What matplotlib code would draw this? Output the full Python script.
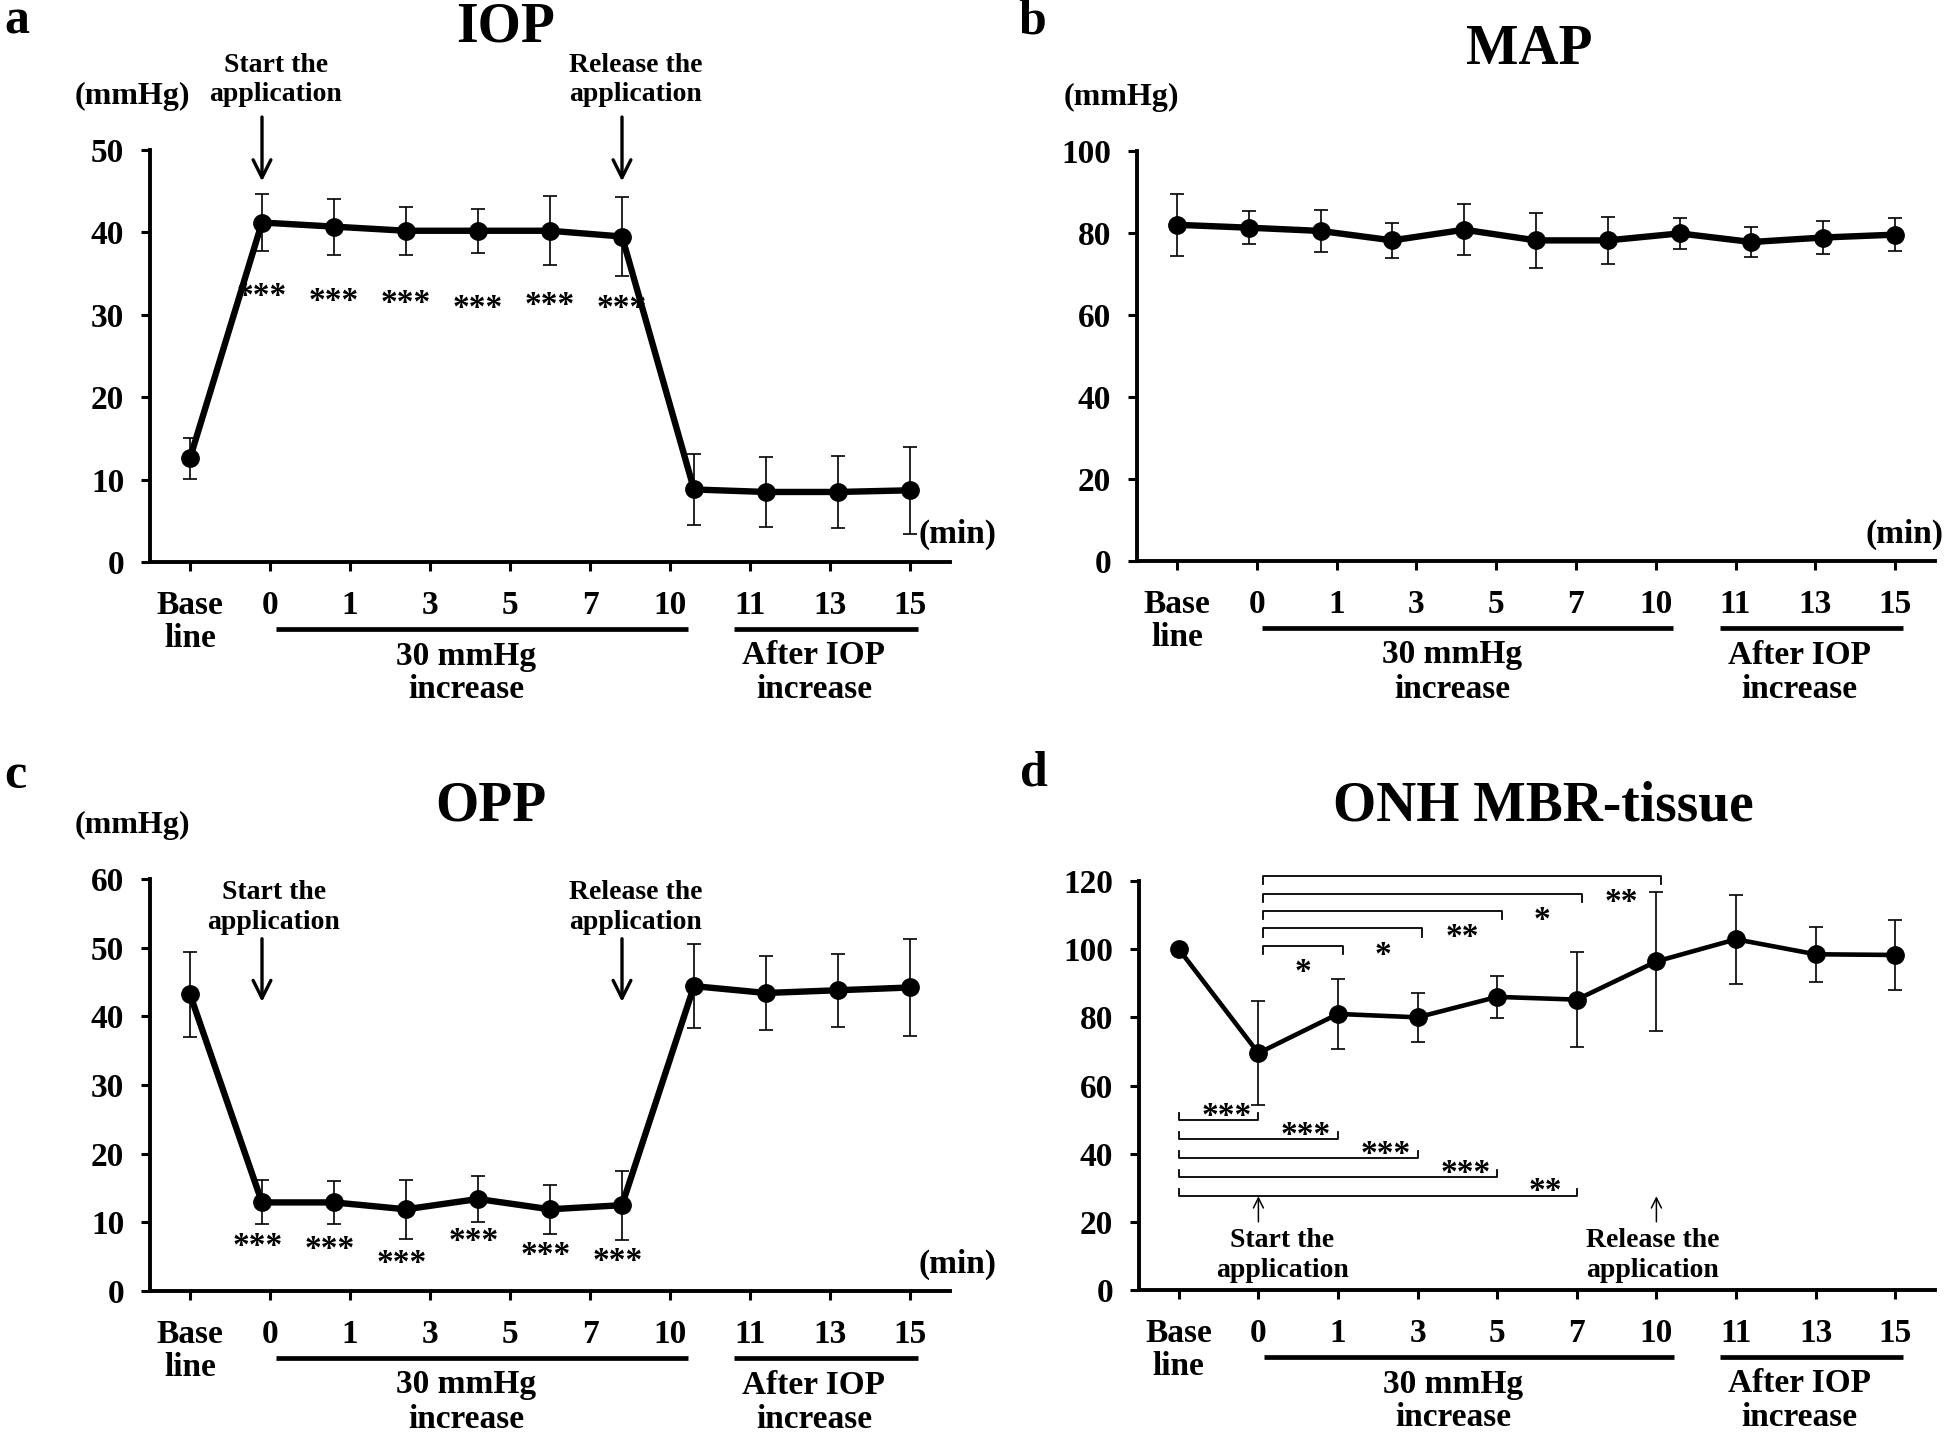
import numpy as np
import matplotlib.pyplot as plt

plt.rcParams['font.family'] = ['Liberation Serif', 'DejaVu Serif']
plt.rcParams['font.weight'] = 'bold'

W, H = 1946, 1436

tick_labels = ['Base\nline', '0', '1', '3', '5', '7', '10', '11', '13', '15']

# a: IOP (11 recorded points)
iop_mean = [12.6, 41.2, 40.7, 40.2, 40.2, 40.2, 39.5, 8.8, 8.5, 8.5, 8.7]
iop_sd = [2.5, 3.5, 3.4, 2.9, 2.7, 4.2, 4.8, 4.3, 4.2, 4.4, 5.3]
iop_stars = ['***', '***', '***', '***', '***', '***']
iop_star_y = [33.1, 32.6, 32.3, 31.7, 32.0, 31.7]

# b: MAP
map_mean = [82.0, 81.3, 80.5, 78.2, 80.8, 78.2, 78.2, 79.9, 77.8, 78.9, 79.6]
map_sd = [7.5, 4.0, 5.2, 4.3, 6.2, 6.8, 5.8, 3.7, 3.6, 4.0, 4.0]

# c: OPP
opp_mean = [43.2, 12.9, 12.9, 11.9, 13.4, 11.9, 12.5, 44.4, 43.4, 43.8, 44.2]
opp_sd = [6.2, 3.2, 3.1, 4.3, 3.4, 3.6, 5.0, 6.1, 5.4, 5.3, 7.0]
opp_stars = ['***', '***', '***', '***', '***', '***']
opp_star_y = [7.6, 7.1, 5.1, 8.3, 6.3, 5.4]

# d: ONH MBR-tissue (one point per label)
onh_mean = [100.0, 69.5, 81.0, 80.0, 86.0, 85.2, 96.4, 102.9, 98.5, 98.3]
onh_sd = [0, 15.2, 10.3, 7.2, 6.2, 14.0, 20.3, 13.1, 8.1, 10.4]
# comparisons with 0 min
vs0_targets = ['1', '3', '5', '7', '10']
vs0_labels = ['*', '*', '**', '*', '**']
# comparisons with baseline
vsbase_targets = ['0', '1', '3', '5', '7']
vsbase_labels = ['***', '***', '***', '***', '**']


def make_axes(left, right, top, bottom):
    return fig.add_axes([left / W, 1 - bottom / H, (right - left) / W, (bottom - top) / H])


def style_axes(ax, ymax, ystep):
    ax.set_xlim(-0.5, 9.5)
    ax.set_ylim(0, ymax)
    ax.set_yticks(np.arange(0, ymax + 1, ystep))
    ax.set_xticks(range(len(tick_labels)))
    ax.set_xticklabels(tick_labels, linespacing=1.05)
    for s in ['top', 'right']:
        ax.spines[s].set_visible(False)
    for s in ['left', 'bottom']:
        ax.spines[s].set_linewidth(2.8)
    ax.tick_params(axis='both', width=2.2, length=6.5, labelsize=24)
    ax.tick_params(axis='x', pad=14)
    ax.tick_params(axis='y', pad=12)
    for lab in ax.get_xticklabels() + ax.get_yticklabels():
        lab.set_fontweight('bold')
    # grouping bars under the time labels
    tr = ax.get_xaxis_transform()
    h_px = ax.bbox.height

    def fy(px):
        return -px / h_px
    ax.plot([1.07, 6.22], [fy(67)] * 2, color='black', lw=3.4, transform=tr, clip_on=False,
            solid_capstyle='butt')
    ax.plot([6.8, 9.1], [fy(67)] * 2, color='black', lw=3.4, transform=tr, clip_on=False,
            solid_capstyle='butt')
    ax.text(3.45, fy(94), '30 mmHg', transform=tr, ha='center', va='center', fontsize=24)
    ax.text(3.45, fy(128), 'increase', transform=tr, ha='center', va='center', fontsize=24)
    ax.text(7.8, fy(94), 'After IOP', transform=tr, ha='center', va='center', fontsize=24)
    ax.text(7.8, fy(128), 'increase', transform=tr, ha='center', va='center', fontsize=24)


def plot_series(ax, x, mean, sd, lw=4.6):
    ax.errorbar(x, mean, yerr=sd, color='black', lw=lw, marker='o', ms=12.5,
                elinewidth=1.2, capsize=4.7, capthick=1.2, zorder=3, clip_on=False)


def star(ax, x, y, s):
    ax.annotate(s, (x, y), xytext=(0, -5.5), textcoords='offset points', ha='center',
                va='center', fontsize=24, annotation_clip=False)


def ftext(px, py, s, size, ha='center'):
    fig.text(px / W, 1 - py / H, s, ha=ha, va='center', fontsize=size, fontweight='bold')


def down_arrow(ax, x, y0, y1):
    ax.annotate('', xy=(x, y1), xytext=(x, y0), annotation_clip=False,
                arrowprops=dict(arrowstyle='->', lw=2.4, color='black', mutation_scale=32,
                                shrinkA=0, shrinkB=0))


fig = plt.figure(figsize=(W / 100, H / 100), dpi=100)

x11 = np.linspace(0, len(tick_labels) - 1, len(iop_mean))

# ---- a: IOP ----
ax_a = make_axes(150, 950, 150, 562)
style_axes(ax_a, 50, 10)
plot_series(ax_a, x11, iop_mean, iop_sd)
for i, s in enumerate(iop_stars):
    star(ax_a, x11[i + 1], iop_star_y[i], s)
down_arrow(ax_a, x11[1], 54.0, 46.2)
down_arrow(ax_a, x11[6], 54.0, 46.2)
for xc, line1 in [(1.07, 'Start the'), (5.57, 'Release the')]:
    ax_a.text(xc, 60.3, line1, ha='center', va='center', fontsize=20, clip_on=False)
    ax_a.text(xc, 56.7, 'application', ha='center', va='center', fontsize=20, clip_on=False)
ax_a.text(9.1, 3.4, '(min)', ha='left', va='center', fontsize=24, clip_on=False)
ftext(4, 22, 'a', 36, ha='left')
ftext(506, 27, 'IOP', 40)
ftext(132, 96, '(mmHg)', 23)

# ---- b: MAP ----
ax_b = make_axes(1137, 1935, 151, 561)
style_axes(ax_b, 100, 20)
plot_series(ax_b, x11, map_mean, map_sd)
ax_b.text(8.63, 6.6, '(min)', ha='left', va='center', fontsize=24, clip_on=False)
ftext(1018, 22, 'b', 36, ha='left')
ftext(1529, 50, 'MAP', 40)
ftext(1121, 97, '(mmHg)', 23)

# ---- c: OPP ----
ax_c = make_axes(150, 950, 879, 1291)
style_axes(ax_c, 60, 10)
plot_series(ax_c, x11, opp_mean, opp_sd)
for i, s in enumerate(opp_stars):
    star(ax_c, x11[i + 1] - 0.05, opp_star_y[i], s)
down_arrow(ax_c, x11[1], 51.3, 42.1)
down_arrow(ax_c, x11[6], 51.3, 42.1)
for xc, line1 in [(1.05, 'Start the'), (5.57, 'Release the')]:
    ax_c.text(xc, 58.1, line1, ha='center', va='center', fontsize=20, clip_on=False)
    ax_c.text(xc, 53.7, 'application', ha='center', va='center', fontsize=20, clip_on=False)
ax_c.text(9.1, 3.9, '(min)', ha='left', va='center', fontsize=24, clip_on=False)
ftext(4, 776, 'c', 36, ha='left')
ftext(491, 807, 'OPP', 40)
ftext(132, 825, '(mmHg)', 23)

# ---- d: ONH MBR-tissue ----
ax_d = make_axes(1139, 1935, 881, 1290)
style_axes(ax_d, 120, 20)
x10 = np.arange(len(onh_mean))
plot_series(ax_d, x10, onh_mean, onh_sd, lw=3.3)

pos = {lab.split('\n')[0]: i for i, lab in enumerate(tick_labels)}
x0 = pos['0']
for i, (t, s) in enumerate(zip(vs0_targets, vs0_labels)):
    y = 101.0 + 5.1 * i
    xe = pos[t] + 0.06
    ax_d.plot([x0 + 0.06, x0 + 0.06, xe, xe], [y - 2.4, y, y, y - 2.4], color='black',
              lw=1.3, clip_on=False)
    star(ax_d, (pos[t] - 1 + pos[t]) / 2 + 0.06, y - 5.6, s)
xb = pos['Base']
for i, (t, s) in enumerate(zip(vsbase_targets, vsbase_labels)):
    y = 49.9 - 5.55 * i
    xe = pos[t]
    ax_d.plot([xb, xb, xe, xe], [y + 2.0, y, y, y + 2.0], color='black', lw=1.3, clip_on=False)
    star(ax_d, xe - 0.4, y + 3.3, s)

for xa, line1 in [(pos['0'], 'Start the'), (pos['10'], 'Release the')]:
    ax_d.annotate('', xy=(xa, 27.5), xytext=(xa, 20.0),
                  arrowprops=dict(arrowstyle='->', lw=1.1, color='black', mutation_scale=18,
                                  shrinkA=0, shrinkB=0))
    ax_d.text(xa + (0.3 if line1 == 'Start the' else -0.05), 14.4, line1, ha='center',
              va='center', fontsize=20)
    ax_d.text(xa + (0.3 if line1 == 'Start the' else -0.05), 5.6, 'application', ha='center',
              va='center', fontsize=20)
ftext(1020, 773, 'd', 36, ha='left')
ftext(1543, 807, 'ONH MBR-tissue', 40)

fig.savefig('out.png', dpi=100)
